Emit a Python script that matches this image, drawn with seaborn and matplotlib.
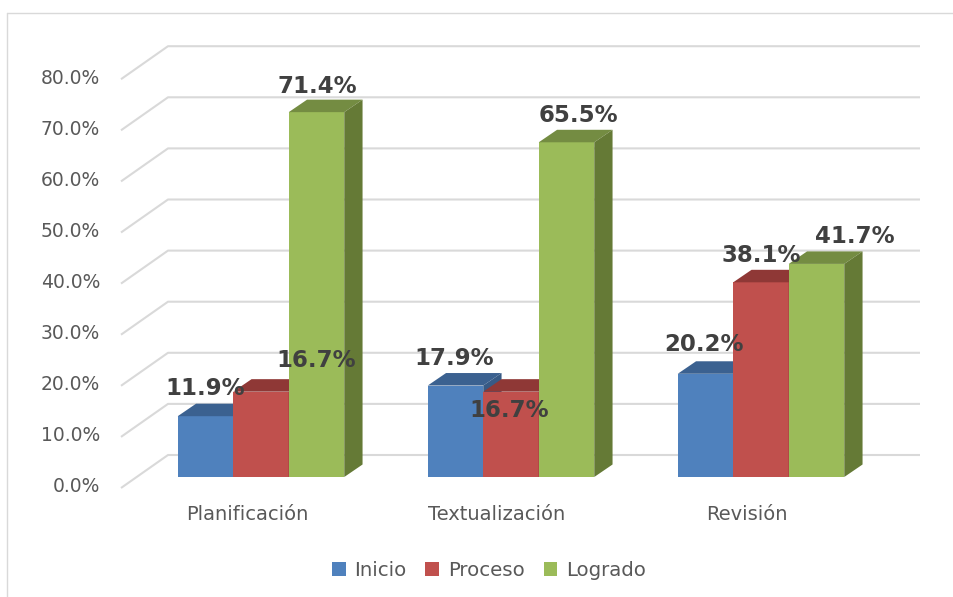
import matplotlib
matplotlib.use("Agg")
import matplotlib.pyplot as plt
from matplotlib.lines import Line2D
from matplotlib.patches import Polygon
from matplotlib.transforms import ScaledTranslation
import pandas as pd
import seaborn as sns

categories = ["Planificación", "Textualización", "Revisión"]
series = ["Inicio", "Proceso", "Logrado"]
inicio = [11.9, 17.9, 20.2]
proceso = [16.7, 16.7, 38.1]
logrado = [71.4, 65.5, 41.7]
yticks = [0, 10, 20, 30, 40, 50, 60, 70, 80]

front_colors = ["#4f81bd", "#c0504d", "#9bbb59"]
top_colors = ["#3b6190", "#8f3836", "#748c42"]
side_colors = ["#375a85", "#853432", "#657a36"]
label_color = "#404040"
tick_color = "#595959"
grid_color = "#d9d9d9"

W, H = 954, 597
L, R, T, B = 121, 920, 20, 477
PX_X = 250.0       # pixels per category
PX_Y = 5.11        # pixels per percent
CENTER0 = 261.0    # pixel x of first category

df = pd.DataFrame({
    "cat": categories * 3,
    "serie": [s for s in series for _ in categories],
    "val": inicio + proceso + logrado,
})

sns.set_theme(style="white")
fig = plt.figure(figsize=(W / 100, H / 100), dpi=100, facecolor="white")
ax = fig.add_axes([L / W, 1 - B / H, (R - L) / W, (B - T) / H])

sns.barplot(data=df, x="cat", y="val", hue="serie", order=categories, hue_order=series,
            palette=front_colors, width=0.666, gap=0, saturation=1, errorbar=None, ax=ax,
            linewidth=0, edgecolor="none")

xmin, xmax = (L - CENTER0) / PX_X, (R - CENTER0) / PX_X
ax.set_xlim(xmin, xmax)
ax.set_ylim(0, (B - T) / PX_Y)
sns.despine(ax=ax, left=True, bottom=True)
ax.grid(False)
ax.set_xlabel("")
ax.set_ylabel("")
ax.patch.set_alpha(0)

# Chart-area frame
fig.add_artist(Line2D([7 / W, 1], [1 - 12.5 / H] * 2, color="#d9d9d9", lw=1))
fig.add_artist(Line2D([7 / W] * 2, [0, 1 - 12.5 / H], color="#d9d9d9", lw=1))

# Walls: gridlines going back and across
wall_dx = 47 / PX_X
wall_back = 22 / PX_Y
wall_front = -11 / PX_Y
for t in yticks:
    ax.plot([xmin, xmin + wall_dx, xmax], [t + wall_front, t + wall_back, t + wall_back],
            color=grid_color, lw=1.5, zorder=1, clip_on=False, solid_capstyle="butt")

# Bar depth
dx = 18.3 / PX_X
dy = 12.5 / PX_Y
bars = []
for s, cont in enumerate(ax.containers):
    for c, p in enumerate(cont.patches):
        bars.append((c, s, p))
bars.sort(key=lambda b: (b[0], b[1]))
z = 5
for c, s, p in bars:
    x0, w, h = p.get_x(), p.get_width(), p.get_height()
    p.set_zorder(z)
    ax.add_patch(Polygon([(x0, h), (x0 + w, h), (x0 + w + dx, h + dy), (x0 + dx, h + dy)],
                         facecolor=top_colors[s], edgecolor="none", zorder=z + 1))
    ax.add_patch(Polygon([(x0 + w, 0), (x0 + w + dx, dy), (x0 + w + dx, h + dy), (x0 + w, h)],
                         facecolor=side_colors[s], edgecolor="none", zorder=z + 1))
    z += 2

# Data labels (offset in pixels from the centre of each bar's top edge)
label_offsets = {
    (0, 0): (0, 28), (0, 1): (55.5, 31), (0, 2): (1, 26),
    (1, 0): (-1, 27.5), (1, 1): (-2, -19), (1, 2): (12, 27),
    (2, 0): (-1, 29), (2, 1): (0, 27), (2, 2): (38, 27),
}
for c, s, p in bars:
    ox, oy = label_offsets[(c, s)]
    ax.annotate(f"{p.get_height():.1f}%", (p.get_x() + p.get_width() / 2, p.get_height()),
                xytext=(ox * 0.72, oy * 0.72), textcoords="offset points",
                ha="center", va="center", fontsize=16.5, fontweight="bold",
                color=label_color, zorder=50, annotation_clip=False)

# Axes text
ax.set_yticks(yticks)
ax.set_yticklabels([f"{t:.1f}%" for t in yticks])
ax.tick_params(axis="y", length=0, pad=15, labelsize=13.5, labelcolor=tick_color)
ax.tick_params(axis="x", length=0, pad=20, labelsize=14, labelcolor=tick_color)
shift = ScaledTranslation(0, -8 / 100, fig.dpi_scale_trans)
for lab in ax.get_yticklabels():
    lab.set_transform(lab.get_transform() + shift)
xshift = ScaledTranslation(-14 / 100, 0, fig.dpi_scale_trans)
for lab in ax.get_xticklabels():
    lab.set_transform(lab.get_transform() + xshift)

# Legend
handles, labels = ax.get_legend_handles_labels()
ax.legend(handles, labels, loc="center", bbox_to_anchor=(489 / W, 1 - 570 / H),
          bbox_transform=fig.transFigure, ncol=3, frameon=False, fontsize=14.2,
          handlelength=0.7, handleheight=0.7, handletextpad=0.45, columnspacing=0.95,
          labelcolor=tick_color)

fig.savefig("out.png", dpi=100, facecolor="white")
